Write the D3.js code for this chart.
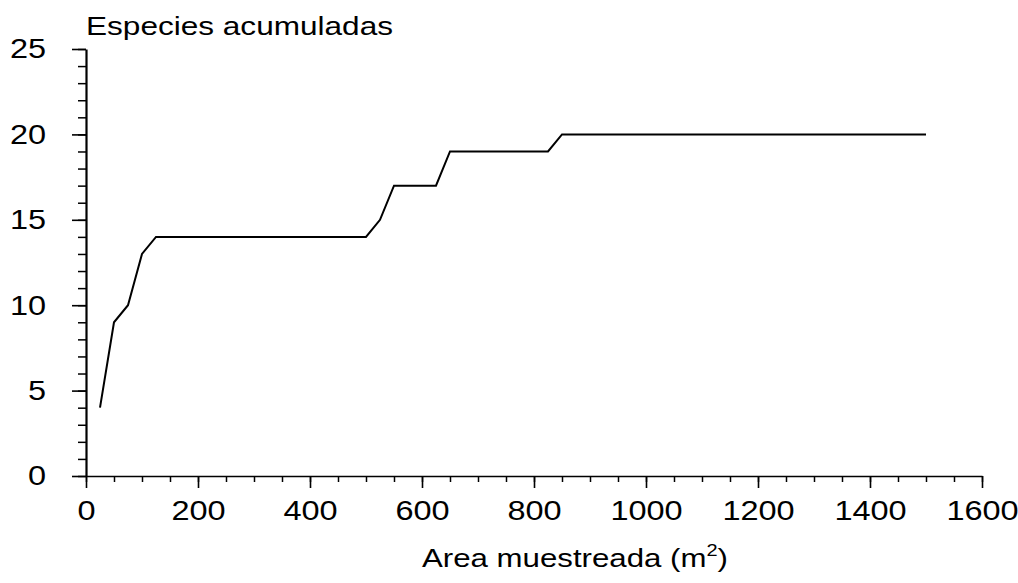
<!DOCTYPE html>
<html>
<head>
<meta charset="utf-8">
<script src="https://cdn.jsdelivr.net/npm/d3@7"></script>
<style>
  body { margin: 0; background: #fff; }
  text { font-family: "Liberation Sans", Arial, sans-serif; fill: #000; }
  .domain, .tick line { stroke: #000; }
</style>
</head>
<body>
<script>
// area sampled (m2) and accumulated species
var area = [25, 50, 75, 100, 125, 500, 525, 550, 625, 650, 825, 850, 1500];
var species = [4, 9, 10, 13, 14, 14, 15, 17, 17, 19, 19, 20, 20];
var xTicks = [0, 200, 400, 600, 800, 1000, 1200, 1400, 1600];
var yTicks = [0, 5, 10, 15, 20, 25];

var W = 1018, H = 583;
var margin = {top: 49, right: 36, bottom: 107, left: 86};
var sx = 1.16; // scanned glyphs are wider than Arial

var svg = d3.select("body").append("svg")
    .attr("width", W)
    .attr("height", H);

var x = d3.scaleLinear().domain([0, 1600]).range([margin.left, W - margin.right]);
var y = d3.scaleLinear().domain([0, 25]).range([H - margin.bottom, margin.top]);

// minor ticks
svg.append("g")
    .attr("transform", "translate(0," + y(0) + ")")
    .call(d3.axisBottom(x).tickValues(d3.range(0, 1601, 50)).tickSize(6).tickSizeOuter(0).tickFormat(""))
    .call(function(g) { g.select(".domain").remove(); })
    .selectAll("line").attr("stroke-width", 1.5);

svg.append("g")
    .attr("transform", "translate(" + x(0) + ",0)")
    .call(d3.axisLeft(y).tickValues(d3.range(0, 26, 1)).tickSize(8).tickSizeOuter(0).tickFormat(""))
    .call(function(g) { g.select(".domain").remove(); })
    .selectAll("line").attr("stroke-width", 1.5);

// major axes
var xAxis = svg.append("g")
    .attr("transform", "translate(0," + y(0) + ")")
    .call(d3.axisBottom(x).tickValues(xTicks).tickSize(12).tickSizeOuter(0).tickPadding(12).tickFormat(d3.format("d")));
xAxis.select(".domain").attr("stroke-width", 1.6);
xAxis.selectAll(".tick line").attr("stroke-width", 1.6);
xAxis.selectAll("text")
    .attr("font-size", 28)
    .attr("transform", "scale(" + sx + ",1)");

var yAxis = svg.append("g")
    .attr("transform", "translate(" + x(0) + ",0)")
    .call(d3.axisLeft(y).tickValues(yTicks).tickSize(14).tickSizeOuter(0));
yAxis.select(".domain").attr("stroke-width", 2.2);
yAxis.selectAll(".tick line").attr("stroke-width", 1.6);
yAxis.selectAll("text")
    .attr("font-size", 28)
    .attr("x", 0)
    .attr("transform", "translate(-40,0) scale(" + sx + ",1)");

// line
var line = d3.line()
    .x(function(d, i) { return x(area[i]); })
    .y(function(d, i) { return y(species[i]); });

svg.append("path")
    .datum(area)
    .attr("d", line)
    .attr("fill", "none")
    .attr("stroke", "#000")
    .attr("stroke-width", 2);

// titles
svg.append("text")
    .attr("x", 86)
    .attr("y", 35)
    .attr("font-size", 25)
    .attr("textLength", 307)
    .attr("lengthAdjust", "spacingAndGlyphs")
    .text("Especies acumuladas");

var xt = svg.append("text")
    .attr("x", 422)
    .attr("y", 567)
    .attr("font-size", 25)
    .attr("textLength", 306)
    .attr("lengthAdjust", "spacingAndGlyphs");
xt.append("tspan").text("Area muestreada (m");
xt.append("tspan").attr("font-size", 16).attr("dy", -11).text("2");
xt.append("tspan").attr("dy", 11).text(")");
</script>
</body>
</html>
